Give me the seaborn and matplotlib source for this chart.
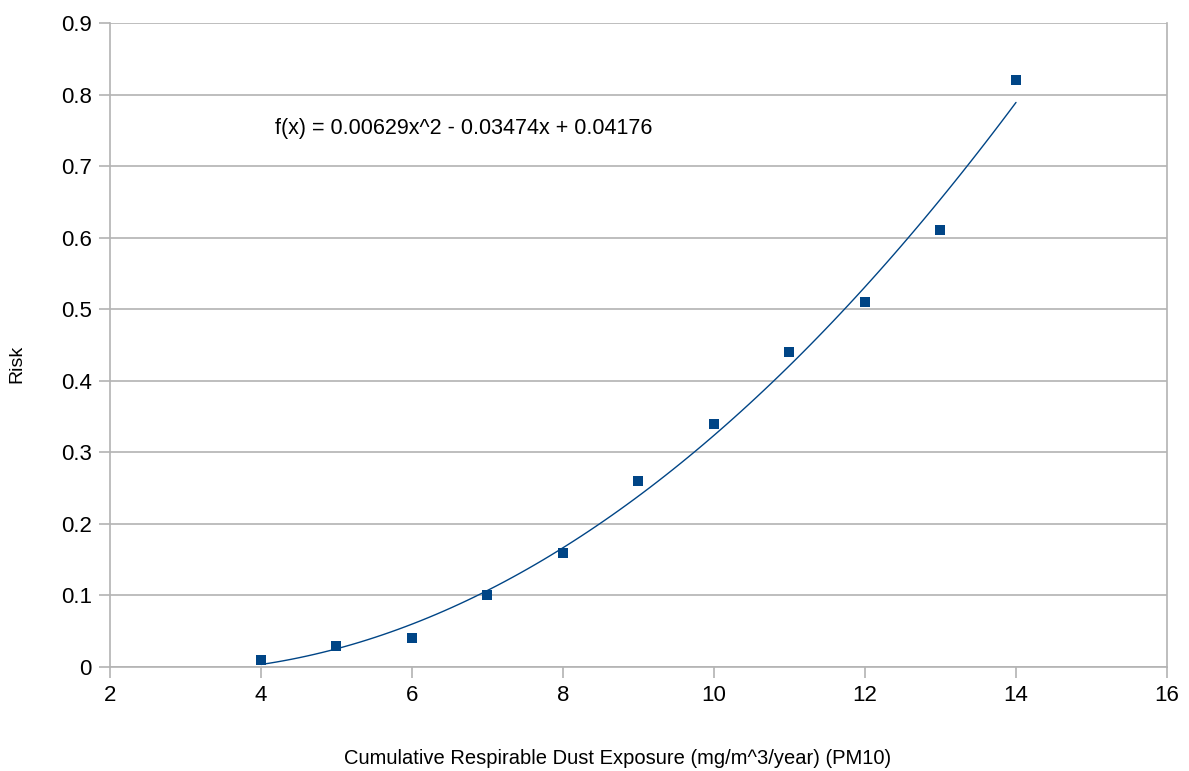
"""Quadratic risk trend vs cumulative respirable dust exposure."""

import numpy as np
import pandas as pd
import matplotlib
matplotlib.use("Agg")
import matplotlib.pyplot as plt
import seaborn as sns

exposure = [4, 5, 6, 7, 8, 9, 10, 11, 12, 13, 14]
risk = [0.01, 0.03, 0.04, 0.10, 0.16, 0.26, 0.34, 0.44, 0.51, 0.61, 0.82]
x_ticks = [2, 4, 6, 8, 10, 12, 14, 16]
y_ticks = [0, 0.1, 0.2, 0.3, 0.4, 0.5, 0.6, 0.7, 0.8, 0.9]
equation = "f(x) = 0.00629x^2 - 0.03474x + 0.04176"

sns.set_theme(style="white")
plt.rcParams["font.family"] = ["Liberation Sans", "DejaVu Sans"]
plt.rcParams["text.color"] = "black"
plt.rcParams["axes.labelcolor"] = "black"

df = pd.DataFrame({"exposure": exposure, "risk": risk})
blue = "#004586"
grid = "#b3b3b3"

fig = plt.figure(figsize=(11.89, 7.71), dpi=100)
ax = fig.add_axes([0.0925, 0.1349, 0.889, 0.8353])

sns.regplot(data=df, x="exposure", y="risk", order=2, ci=None, truncate=True,
            marker="s", ax=ax,
            scatter_kws={"s": 45, "color": blue, "linewidths": 0, "alpha": 1},
            line_kws={"color": blue, "linewidth": 1.0})

ax.set_xlim(2, 16)
ax.set_ylim(0, 0.9)
ax.set_xticks(x_ticks)
ax.set_yticks(y_ticks)
ax.set_xticklabels([str(t) for t in x_ticks])
ax.set_yticklabels([f"{t:g}" for t in y_ticks])
ax.yaxis.grid(True, color=grid, linewidth=1.2)
ax.set_axisbelow(True)
for side in ax.spines.values():
    side.set_color(grid)
    side.set_linewidth(1.2)
ax.spines["top"].set_visible(False)

ax.tick_params(axis="both", direction="out", length=8, width=1.2, color=grid,
               labelsize=16, labelcolor="black", pad=5)
ax.tick_params(bottom=True, left=True)

ax.set_xlabel("Cumulative Respirable Dust Exposure (mg/m^3/year) (PM10)", fontsize=14.5)
ax.xaxis.set_label_coords(0.48, -0.128)
ax.set_ylabel("Risk", fontsize=14)
ax.yaxis.set_label_coords(-0.080, 0.47)

ax.text(4.19, 0.753, equation, fontsize=15.5, va="center", ha="left", color="black")

fig.savefig("out.png", dpi=100)
